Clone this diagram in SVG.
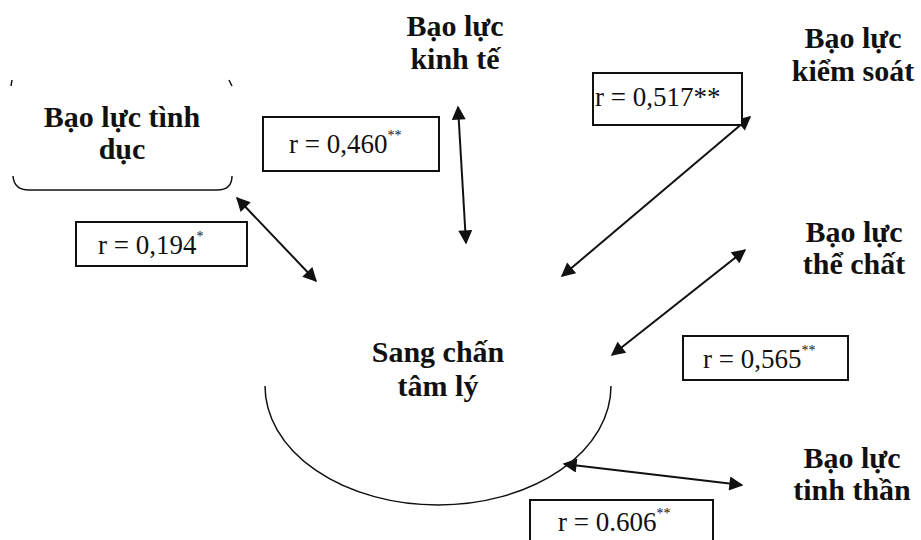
<svg xmlns="http://www.w3.org/2000/svg" width="921" height="540" viewBox="0 0 921 540">
<style>
.lbl{font-family:"Liberation Serif","Times New Roman",serif;font-weight:bold;font-size:30px;fill:#111;text-anchor:middle}
.val{font-family:"Liberation Serif","Times New Roman",serif;font-size:27px;fill:#111}
.sup{font-size:14px}
.box{fill:#fff;stroke:#111;stroke-width:2}
.con{stroke:#111;stroke-width:2;fill:none;marker-start:url(#ah);marker-end:url(#ah)}
</style>
<defs>
<marker id="ah" viewBox="0 0 10 10" refX="9" refY="5" markerWidth="8" markerHeight="7" orient="auto-start-reverse" markerUnits="strokeWidth">
<path d="M0,0 L10,5 L0,10 z" fill="#111"/>
</marker>
</defs>
<rect width="921" height="540" fill="#fff"/>

<g id="sang-chan">
<path d="M265,386 A173,119 0 0 0 611,386" fill="none" stroke="#111" stroke-width="1.5"/>
<text class="lbl" x="438" y="362">Sang chấn</text>
<text class="lbl" x="438" y="396">tâm lý</text>
</g>

<g id="tinh-duc">
<path d="M13,176 Q14,190 29,190 L217,190 Q232,190 232,176" fill="none" stroke="#111" stroke-width="1.5"/>
<path d="M12,80 L11,86 M229,80 L232,86" stroke="#111" stroke-width="1.5"/>
<text class="lbl" x="122" y="127">Bạo lực tình</text>
<text class="lbl" x="122" y="159">dục</text>
</g>

<g id="kinh-te">
<text class="lbl" x="455" y="36">Bạo lực</text>
<text class="lbl" x="455" y="69">kinh tế</text>
</g>

<g id="kiem-soat">
<text class="lbl" x="853" y="48">Bạo lực</text>
<text class="lbl" x="853" y="81">kiểm soát</text>
</g>

<g id="the-chat">
<text class="lbl" x="854" y="242">Bạo lực</text>
<text class="lbl" x="854" y="274">thể chất</text>
</g>

<g id="tinh-than">
<text class="lbl" x="852" y="468">Bạo lực</text>
<text class="lbl" x="852" y="500">tinh thần</text>
</g>

<g id="connectors">
<line class="con" x1="237" y1="198" x2="316" y2="281"/>
<line class="con" x1="458" y1="107" x2="466" y2="243"/>
<line class="con" x1="750" y1="117" x2="562" y2="276"/>
<line class="con" x1="745" y1="250" x2="612" y2="355"/>
<line class="con" x1="564" y1="464" x2="742" y2="485"/>
</g>

<g id="r-194">
<rect class="box" x="76" y="222" width="171" height="44"/>
<text class="val" x="98" y="254">r = 0,194<tspan class="sup" dy="-13">*</tspan></text>
</g>
<g id="r-460">
<rect class="box" x="263" y="117" width="176" height="54"/>
<text class="val" x="289" y="153">r = 0,460<tspan class="sup" dy="-13">**</tspan></text>
</g>
<g id="r-517">
<rect class="box" x="593" y="73" width="149" height="52"/>
<text class="val" x="595" y="106">r = 0,517**</text>
</g>
<g id="r-565">
<rect class="box" x="683" y="336" width="165" height="44"/>
<text class="val" x="703" y="368">r = 0,565<tspan class="sup" dy="-13">**</tspan></text>
</g>
<g id="r-606">
<rect class="box" x="530" y="500" width="183" height="50"/>
<text class="val" x="558" y="531">r = 0.606<tspan class="sup" dy="-13">**</tspan></text>
</g>
</svg>
